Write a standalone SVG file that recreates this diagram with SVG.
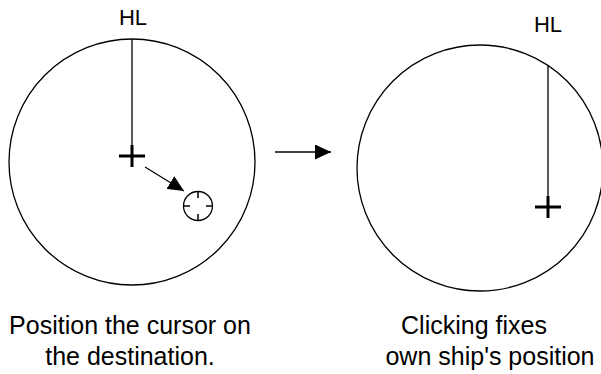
<svg xmlns="http://www.w3.org/2000/svg" width="601" height="374" viewBox="0 0 601 374">
<style>
.ln{fill:none;stroke:#000;stroke-width:1.3}
.cross{fill:none;stroke:#000;stroke-width:3}
.t{font-family:"Liberation Sans",Arial,sans-serif;font-size:25px;fill:#000;text-anchor:middle}
.hl{font-family:"Liberation Sans",Arial,sans-serif;font-size:22px;fill:#000;text-anchor:middle}
</style>
<defs>
<marker id="ah2" markerWidth="16" markerHeight="15" refX="16" refY="7.5" orient="auto" markerUnits="userSpaceOnUse" viewBox="0 0 16 15">
<path d="M0,0 L16,7.5 L0,15 Z" fill="#000"/>
</marker>
</defs>
<g id="left-display">
<circle class="ln" cx="132" cy="162" r="123"/>
<line class="ln" x1="132" y1="39" x2="132" y2="156"/>
<path class="cross" d="M119,156 H145 M132,145 V167"/>
<text class="hl" x="133" y="25">HL</text>
</g>
<g id="cursor">
<circle class="ln" cx="198" cy="206" r="14.5"/>
<path fill="none" stroke="#000" stroke-width="1.5" d="M183.5,206 H190 M206,206 H212.5 M198,191.5 V198 M198,214 V220.5"/>
</g>
<g id="right-display">
<circle class="ln" cx="480" cy="168" r="123"/>
<line class="ln" x1="548" y1="65" x2="548" y2="207"/>
<path class="cross" d="M535,207 H561 M548,196 V218"/>
<text class="hl" x="548" y="32">HL</text>
</g>
<g id="connectors">
<line class="ln" x1="145" y1="167" x2="184" y2="191" marker-end="url(#ah2)"/>
<line class="ln" x1="275" y1="152" x2="331" y2="152" marker-end="url(#ah2)"/>
</g>
<g id="captions">
<text class="t" x="130" y="334">Position the cursor on</text>
<text class="t" x="130" y="365">the destination.</text>
<text class="t" x="474" y="334">Clicking fixes</text>
<text class="t" x="490" y="365">own ship's position</text>
</g>
</svg>
